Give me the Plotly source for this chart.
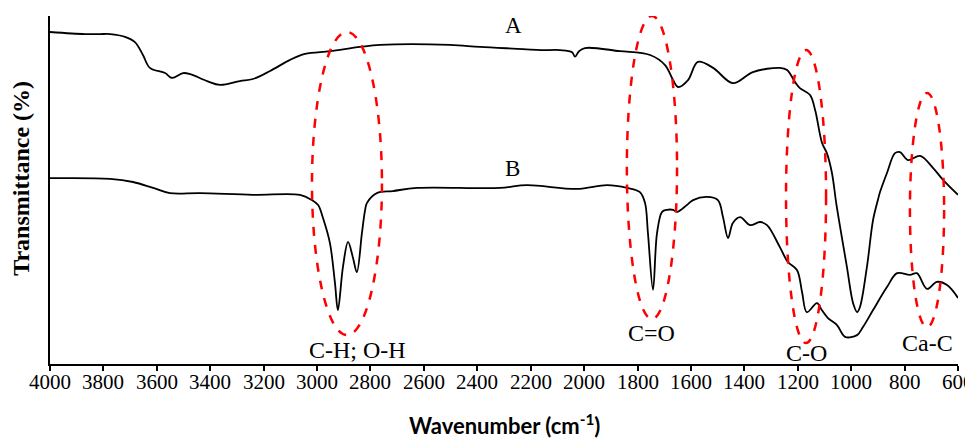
import plotly.graph_objects as go

# Curve A (wavenumber, transmittance a.u.)
wn_A = [4000, 3869, 3813, 3775, 3719, 3682, 3652, 3626, 3569, 3543, 3502, 3475, 3412, 3363,
        3289, 3240, 3176, 3101, 3045, 2952, 2839, 2764, 2502, 2390, 2229, 2161, 2090, 2045,
        2034, 2020, 1997, 1866, 1753, 1697, 1667, 1648, 1611, 1574, 1517, 1443, 1368, 1267,
        1240, 1210, 1192, 1154, 1135, 1109, 1091, 1072, 1055, 1016, 993, 978, 967, 941, 918,
        900, 892, 866, 836, 817, 787, 742, 693, 656, 600]
T_A = [95.4, 94.8, 94.8, 94.8, 94.0, 92.5, 88.8, 85.1, 83.6, 82.2, 83.6, 83.3, 81.3, 80.2,
       81.3, 81.9, 84.2, 87.4, 89.1, 89.9, 91.1, 91.7, 91.7, 91.1, 90.5, 90.2, 90.2, 89.6,
       88.3, 89.8, 90.8, 89.9, 88.8, 85.9, 81.6, 79.6, 81.6, 86.8, 85.1, 80.7, 83.9, 85.1,
       84.5, 81.0, 79.3, 77.3, 73.0, 63.5, 60.6, 54.9, 45.7, 27.9, 17.5, 14.9, 16.4, 27.9, 41.4,
       47.1, 49.4, 54.9, 60.6, 60.9, 58.6, 59.8, 56.3, 52.9, 48.6]

# Curve B
wn_B = [4000, 3775, 3689, 3614, 3551, 3438, 3240, 3064, 3019, 2996, 2978, 2952, 2933, 2922,
        2903, 2884, 2866, 2851, 2832, 2820, 2813, 2776, 2716, 2626, 2315, 2214, 2027, 1914,
        1839, 1791, 1772, 1761, 1742, 1727, 1708, 1690, 1667, 1652, 1615, 1592, 1540, 1499,
        1480, 1461, 1443, 1416, 1379, 1341, 1315, 1267, 1237, 1203, 1184, 1166, 1128, 1110,
        1087, 1053, 1023, 978, 956, 918, 866, 828, 780, 754, 716, 679, 641, 600]
T_B = [53.4, 53.2, 52.3, 50.6, 49.1, 49.1, 48.6, 48.6, 47.1, 45.7, 42.0, 34.8, 23.3, 15.5,
       27.9, 35.1, 30.7, 26.4, 37.6, 44.3, 46.3, 49.1, 49.7, 50.6, 50.6, 51.4, 50.3, 51.4,
       50.6, 49.4, 46.3, 37.6, 21.3, 37.6, 43.7, 44.3, 44.3, 43.7, 45.7, 47.1, 48.0, 47.1,
       42.2, 36.2, 40.5, 42.2, 39.9, 40.8, 39.9, 33.6, 29.3, 27.0, 20.7, 14.9, 17.5, 15.5,
       13.2, 11.2, 7.8, 8.3, 10.6, 15.5, 22.1, 26.1, 25.6, 26.1, 21.6, 23.6, 22.7, 19.0]

# Highlighted bands
band_labels = ["C-H; O-H", "C=O", "C-O", "Ca-C"]
band_center = [2888, 1746, 1169, 716]
band_halfw = [131, 94, 75, 64]
band_top = [95.4, 100.0, 90.2, 77.9]
band_bottom = [8.3, 12.9, 6.0, 10.6]
label_wn = [2850, 1746, 1169, 716]
label_T = [4.0, 8.9, 3.2, 6.0]

series_labels = ["A", "B"]
series_label_wn = [2266, 2270]
series_label_T = [97.4, 56.3]

tick_vals = list(range(4000, 599, -200))
tick_text = [str(v) for v in tick_vals]

SERIF = "Liberation Serif, Times New Roman, serif"

fig = go.Figure()
fig.add_trace(go.Scatter(x=wn_A, y=T_A, mode="lines", line=dict(color="black", width=1.8),
                         line_shape="spline", showlegend=False))
fig.add_trace(go.Scatter(x=wn_B, y=T_B, mode="lines", line=dict(color="black", width=1.8),
                         line_shape="spline", showlegend=False))

for c, hw, t, b in zip(band_center, band_halfw, band_top, band_bottom):
    fig.add_shape(type="circle", xref="x", yref="y", x0=c + hw, x1=c - hw, y0=b, y1=t,
                  line=dict(color="#ff0000", width=2.5, dash="dash"))

for lab, x, y in zip(band_labels, label_wn, label_T):
    fig.add_annotation(x=x, y=y, text=lab, showarrow=False,
                       font=dict(family=SERIF, size=24, color="black"))
for lab, x, y in zip(series_labels, series_label_wn, series_label_T):
    fig.add_annotation(x=x, y=y, text=lab, showarrow=False,
                       font=dict(family=SERIF, size=23, color="black"))

# x tick labels (drawn as text positioned by the x axis scale)
for v, t in zip(tick_vals, tick_text):
    fig.add_annotation(x=v, xref="x", yref="paper", y=-0.052, yanchor="middle",
                       text=t, showarrow=False,
                       font=dict(family=SERIF, size=21, color="black"))

# axis titles
fig.add_annotation(xref="paper", yref="paper", x=0.5, y=-0.175, yanchor="middle",
                   text="<b>Wavenumber (cm<sup>-1</sup>)</b>", showarrow=False,
                   font=dict(family="Lato", size=22, color="black"))
fig.add_annotation(xref="paper", yref="paper", x=-0.032, y=0.535, xanchor="center",
                   yanchor="middle",
                   text="<b>Transmittance (%)</b>", showarrow=False, textangle=-90,
                   font=dict(family=SERIF, size=24, color="black"))

fig.update_layout(
    width=965, height=431,
    margin=dict(l=42, r=15, t=8, b=75),
    paper_bgcolor="white", plot_bgcolor="white",
    font=dict(family=SERIF, color="black"),
    xaxis=dict(range=[4000, 600], tickvals=tick_vals, showticklabels=False,
               automargin=False,
               showline=True, linecolor="black", linewidth=2, ticks="outside", ticklen=5,
               tickwidth=1.5, tickcolor="black", showgrid=False, zeroline=False),
    yaxis=dict(range=[0, 100], showline=True, linecolor="black", linewidth=2,
               automargin=False,
               showticklabels=False, ticks="", showgrid=False, zeroline=False),
)

fig.write_html("out.html")
